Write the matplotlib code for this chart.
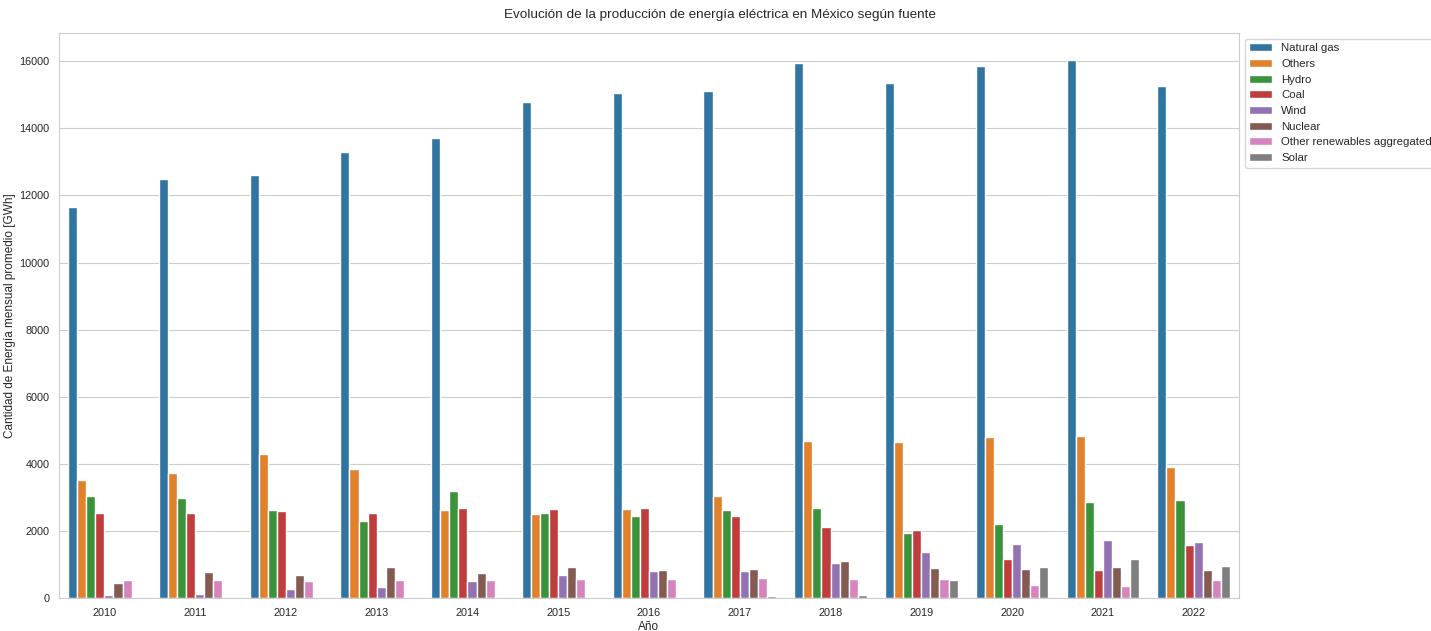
import numpy as np
import pandas as pd
import seaborn as sns
import matplotlib.pyplot as plt

years = [2010, 2011, 2012, 2013, 2014, 2015, 2016, 2017, 2018, 2019, 2020, 2021, 2022]
fuentes = ["Natural gas", "Others", "Hydro", "Coal", "Wind", "Nuclear",
           "Other renewables aggregated", "Solar"]

natural_gas = [11670, 12500, 12600, 13280, 13700, 14790, 15050, 15110, 15960, 15350, 15870, 16040, 15270]
others = [3530, 3740, 4290, 3850, 2620, 2490, 2640, 3040, 4680, 4660, 4790, 4830, 3910]
hydro = [3040, 2970, 2610, 2290, 3190, 2530, 2450, 2620, 2670, 1940, 2200, 2850, 2920]
coal = [2540, 2540, 2590, 2530, 2680, 2660, 2680, 2440, 2120, 2040, 1170, 830, 1590]
wind = [80, 110, 270, 320, 500, 680, 800, 800, 1040, 1370, 1620, 1730, 1660]
nuclear = [440, 780, 680, 930, 740, 910, 830, 860, 1090, 880, 870, 920, 830]
other_renew = [550, 530, 500, 550, 550, 580, 570, 610, 570, 560, 390, 370, 550]
solar = [np.nan, np.nan, np.nan, np.nan, np.nan, np.nan, 15, 60, 90, 550, 910, 1150, 950]

series = [natural_gas, others, hydro, coal, wind, nuclear, other_renew, solar]

rows = []
for f, vals in zip(fuentes, series):
    for y, v in zip(years, vals):
        rows.append({"Año": y, "Fuente": f, "Energia": v})
df = pd.DataFrame(rows).dropna()

sns.set_style("whitegrid")
plt.rcParams["font.family"] = ["Liberation Sans", "DejaVu Sans"]

fig = plt.figure(figsize=(14.31, 6.31), dpi=100)
ax = fig.add_axes([59 / 1431, 33 / 631, 1180 / 1431, 565 / 631])
sns.barplot(data=df, x="Año", y="Energia", hue="Fuente", hue_order=fuentes,
            palette="tab10", ax=ax)

fig.suptitle("Evolución de la producción de energía eléctrica en México según fuente",
             fontsize=9.7, x=720 / 1431, y=1 - 15 / 631, va="center")
ax.set_xlabel("Año", fontsize=8.5, labelpad=2)
ax.set_ylabel("Cantidad de Energía mensual promedio [GWh]", fontsize=8.5, labelpad=2)
ax.tick_params(labelsize=7.8)
ax.legend(bbox_to_anchor=(1.0, 1), loc="upper left", fontsize=8.2, title=None)

fig.savefig("out.png", dpi=100)
